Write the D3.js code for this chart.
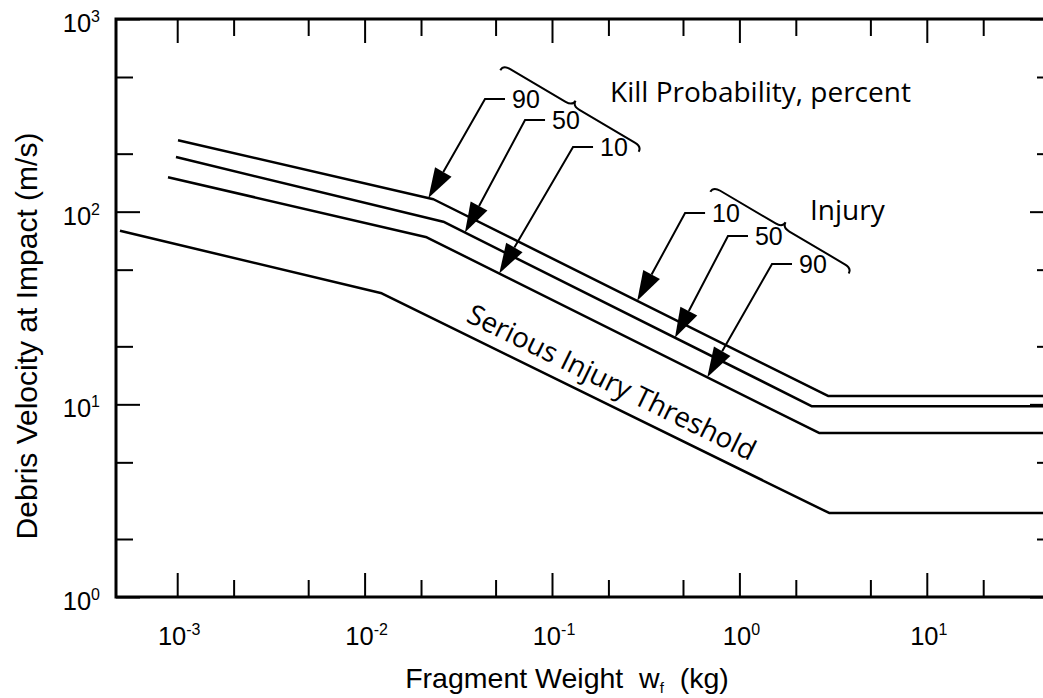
<!DOCTYPE html>
<html>
<head>
<meta charset="utf-8">
<script src="https://cdn.jsdelivr.net/npm/d3@7"></script>
<style>
  body { margin: 0; background: #fff; }
  svg { display: block; }
</style>
</head>
<body>
<script>
// break points of each curve: [fragment weight (kg), impact velocity (m/s)]
const curveA = [[0.00101, 235], [0.0233, 116], [2.97, 11.05], [47, 11.05]];   // kill 90 / injury 10
const curveB = [[0.000985, 192], [0.0263, 88.7], [2.44, 9.77], [47, 9.77]];   // kill 50 / injury 50
const curveC = [[0.000893, 151], [0.02145, 73.6], [2.66, 7.1], [47, 7.1]];    // kill 10 / injury 90
const thresholdCurve = [[0.000495, 79.6], [0.01234, 37.7], [3.01, 2.73], [47, 2.73]];

const xMajorTicks = [1e-3, 1e-2, 1e-1, 1, 10];
const xMinorTicks = [2e-3, 5e-3, 2e-2, 5e-2, 0.2, 0.5, 2, 5, 20];
const yMajorTicks = [1, 10, 100, 1000];
const yMinorTicks = [2, 5, 20, 50, 200, 500];
const xTickExponents = ["-3", "-2", "-1", "0", "1"];
const yTickExponents = ["0", "1", "2", "3"];

// leader arrows: tip sits on a curve at weight tipW, elbow given as [w, v]
const killArrows = [
  { label: "90", curve: curveA, tipW: 0.0219, elbow: [0.0439, 384] },
  { label: "50", curve: curveB, tipW: 0.0343, elbow: [0.0718, 299] },
  { label: "10", curve: curveC, tipW: 0.0523, elbow: [0.1295, 216.6] }
];
const injuryArrows = [
  { label: "10", curve: curveA, tipW: 0.285, elbow: [0.513, 98.4] },
  { label: "50", curve: curveB, tipW: 0.453, elbow: [0.869, 74.8] },
  { label: "90", curve: curveC, tipW: 0.674, elbow: [1.493, 53.5] }
];
// braces: [start, end] in data units
const braces = [
  [[0.055, 577], [0.301, 217.4]],
  [[0.726, 134.8], [3.975, 50.8]]
];
const groupLabels = [
  { text: "Kill Probability, percent", pos: [0.204, 371] },
  { text: "Injury", pos: [2.38, 90.5] }
];
const thresholdLabel = { text: "Serious Injury Threshold", pos: [0.0343, 27.07] };

const width = 1043, height = 698;
const armFont = "'Liberation Sans', Arial, Helvetica, sans-serif";
const humanFont = "'Open Sans', 'Noto Sans', sans-serif";

const svg = d3.select("body").append("svg")
  .attr("width", width)
  .attr("height", height);

const x = d3.scaleLog().domain([4.714e-4, 47.73]).range([116, 1054]);
const y = d3.scaleLog().domain([1, 1000]).range([597, 19]);
const [x0, x1] = x.range();
const [y0, y1] = y.range();

//Ticks on all four sides, pointing inwards
const tickGroup = (axis, transform) => {
  const g = svg.append("g").attr("transform", transform).call(axis);
  g.select(".domain").remove();
  g.selectAll(".tick line").attr("stroke", "#000").attr("stroke-width", 2);
};
[[xMajorTicks, 24], [xMinorTicks, 17]].forEach(([vals, len]) => {
  tickGroup(d3.axisBottom(x).tickValues(vals).tickSize(-len).tickFormat(""), `translate(0,${y0})`);
  tickGroup(d3.axisTop(x).tickValues(vals).tickSize(-len).tickFormat(""), `translate(0,${y1})`);
});
[[yMajorTicks, 24], [yMinorTicks, 17]].forEach(([vals, len]) => {
  tickGroup(d3.axisLeft(y).tickValues(vals).tickSize(-len).tickFormat(""), `translate(${x0},0)`);
  tickGroup(d3.axisRight(y).tickValues(vals).tickSize(-len).tickFormat(""), `translate(${x1},0)`);
});

//Frame
svg.append("path")
  .attr("d", `M${x1},${y1}H${x0}V${y0}H${x1}`)
  .attr("fill", "none")
  .attr("stroke", "#000")
  .attr("stroke-width", 3);

//Tick labels with superscript exponents
const powerLabel = (sel, exp) => {
  sel.append("tspan").text("10");
  sel.append("tspan").attr("font-size", 16).attr("dy", -10).text(exp);
};
xMajorTicks.forEach((t, i) => {
  svg.append("text")
    .attr("x", x(t) + 2)
    .attr("y", y0 + 48)
    .attr("text-anchor", "middle")
    .attr("font-family", armFont)
    .attr("font-size", 25.5)
    .call(powerLabel, xTickExponents[i]);
});
yMajorTicks.forEach((t, i) => {
  svg.append("text")
    .attr("x", x0 - 16)
    .attr("y", y(t) + 13)
    .attr("text-anchor", "end")
    .attr("font-family", armFont)
    .attr("font-size", 25.5)
    .call(powerLabel, yTickExponents[i]);
});

//Axis titles
const xTitle = svg.append("text")
  .attr("x", 567)
  .attr("y", 688)
  .attr("text-anchor", "middle")
  .attr("font-family", armFont)
  .attr("font-size", 28.5)
  .style("white-space", "pre");
xTitle.append("tspan").text("Fragment Weight  w");
xTitle.append("tspan").attr("font-size", 15).attr("dy", 5).text("f");
xTitle.append("tspan").attr("dy", -5).text("  (kg)");

svg.append("text")
  .attr("transform", "translate(37,336) rotate(-90)")
  .attr("text-anchor", "middle")
  .attr("font-family", armFont)
  .attr("font-size", 30)
  .text("Debris Velocity at Impact (m/s)");

//Curves
const line = d3.line().x((d) => x(d[0])).y((d) => y(d[1]));
svg.append("g")
  .selectAll("path")
  .data([curveA, curveB, curveC, thresholdCurve])
  .enter()
  .append("path")
  .attr("d", line)
  .attr("fill", "none")
  .attr("stroke", "#000")
  .attr("stroke-width", 2.5)
  .attr("stroke-linejoin", "round");

// velocity on a curve at a given weight (straight segments in log-log)
const valueAt = (curve, w) => {
  const lw = Math.log10(w);
  for (let i = 0; i < curve.length - 1; i++) {
    const a = Math.log10(curve[i][0]);
    const b = Math.log10(curve[i + 1][0]);
    if (lw >= a && lw <= b) {
      const t = (lw - a) / (b - a);
      const va = Math.log10(curve[i][1]);
      const vb = Math.log10(curve[i + 1][1]);
      return Math.pow(10, va + t * (vb - va));
    }
  }
  return curve[curve.length - 1][1];
};

//Leader arrows with labels
const drawArrow = (a) => {
  const tx = x(a.tipW), ty = y(valueAt(a.curve, a.tipW));
  const ex = x(a.elbow[0]), ey = y(a.elbow[1]);
  const dx = ex - tx, dy = ey - ty;
  const len = Math.hypot(dx, dy);
  const ux = dx / len, uy = dy / len;
  const headLen = 30, headHalf = 9.5;
  const bx = tx + ux * headLen, by = ty + uy * headLen;
  svg.append("path")
    .attr("d", `M${ex + 20},${ey}H${ex}L${bx},${by}`)
    .attr("fill", "none")
    .attr("stroke", "#000")
    .attr("stroke-width", 2);
  svg.append("path")
    .attr("d", `M${tx},${ty}L${bx - uy * headHalf},${by + ux * headHalf}L${bx + uy * headHalf},${by - ux * headHalf}Z`)
    .attr("fill", "#000");
  svg.append("text")
    .attr("x", ex + 27)
    .attr("y", ey + 9)
    .attr("font-family", armFont)
    .attr("font-size", 25)
    .text(a.label);
};
killArrows.forEach(drawArrow);
injuryArrows.forEach(drawArrow);

//Braces
braces.forEach(([p, q]) => {
  const sx = x(p[0]), sy = y(p[1]);
  const L = Math.hypot(x(q[0]) - sx, y(q[1]) - sy);
  const ang = (Math.atan2(y(q[1]) - sy, x(q[0]) - sx) * 180) / Math.PI;
  const h = 6, r = 8, m = L / 2;
  svg.append("path")
    .attr("transform", `translate(${sx},${sy}) rotate(${ang})`)
    .attr("d", `M0,${h}Q0,0 ${r},0L${m - r},0Q${m},0 ${m},${-h}Q${m},0 ${m + r},0L${L - r},0Q${L},0 ${L},${h}`)
    .attr("fill", "none")
    .attr("stroke", "#000")
    .attr("stroke-width", 2);
});

groupLabels.forEach((g) => {
  svg.append("text")
    .attr("x", x(g.pos[0]))
    .attr("y", y(g.pos[1]))
    .attr("font-family", humanFont)
    .attr("font-size", 28)
    .text(g.text);
});

// threshold label follows the slope of the middle segment
const seg = thresholdCurve.slice(1, 3).map((d) => [x(d[0]), y(d[1])]);
const slope = (Math.atan2(seg[1][1] - seg[0][1], seg[1][0] - seg[0][0]) * 180) / Math.PI;
svg.append("text")
  .attr("transform", `translate(${x(thresholdLabel.pos[0])},${y(thresholdLabel.pos[1])}) rotate(${slope})`)
  .attr("font-family", humanFont)
  .attr("font-size", 28)
  .text(thresholdLabel.text);
</script>
</body>
</html>
